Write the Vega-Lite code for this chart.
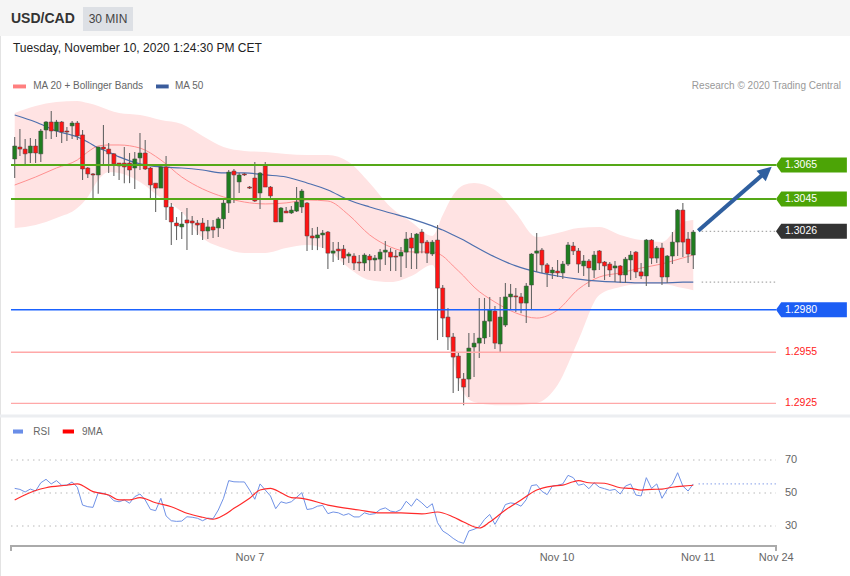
{
"$schema": "https://vega.github.io/schema/vega-lite/v6.json",
"width": 850, "height": 576, "autosize": {"type": "none"}, "padding": 0, "background": "white",
"config": {"view": {"stroke": "#e3e3e3", "strokeWidth": 1}, "text": {"font": "Liberation Sans"}},
"datasets": {
"candles": [
{"i":0,"o":1.30685,"h":1.30814,"l":1.30573,"c":1.30761},{"i":1,"o":1.30755,"h":1.30861,"l":1.30703,"c":1.30743},{"i":2,"o":1.30743,"h":1.30802,"l":1.30644,"c":1.30715},{"i":3,"o":1.3072,"h":1.30808,"l":1.30661,"c":1.30761},{"i":4,"o":1.30761,"h":1.30802,"l":1.30661,"c":1.3072},{"i":5,"o":1.30715,"h":1.30861,"l":1.30667,"c":1.30849},{"i":6,"o":1.30855,"h":1.30908,"l":1.30802,"c":1.30902},{"i":7,"o":1.30902,"h":1.30966,"l":1.30802,"c":1.30849},{"i":8,"o":1.30849,"h":1.30914,"l":1.30814,"c":1.30902},{"i":9,"o":1.30902,"h":1.30908,"l":1.30778,"c":1.30843},
{"i":10,"o":1.30849,"h":1.30873,"l":1.3079,"c":1.30843},{"i":11,"o":1.30879,"h":1.30908,"l":1.30802,"c":1.30896},{"i":12,"o":1.30896,"h":1.30908,"l":1.30796,"c":1.3082},{"i":13,"o":1.30826,"h":1.30855,"l":1.30561,"c":1.30626},{"i":14,"o":1.30632,"h":1.30638,"l":1.30573,"c":1.30597},{"i":15,"o":1.30597,"h":1.30602,"l":1.30444,"c":1.30591},{"i":16,"o":1.30591,"h":1.30757,"l":1.3048,"c":1.30755},{"i":17,"o":1.30755,"h":1.30885,"l":1.30644,"c":1.30743},{"i":18,"o":1.30743,"h":1.30778,"l":1.30602,"c":1.30715},{"i":19,"o":1.30715,"h":1.3072,"l":1.30585,"c":1.30656},
{"i":20,"o":1.30661,"h":1.30661,"l":1.30561,"c":1.30644},{"i":21,"o":1.30661,"h":1.30755,"l":1.30543,"c":1.30638},{"i":22,"o":1.30661,"h":1.3072,"l":1.30543,"c":1.3062},{"i":23,"o":1.30632,"h":1.30726,"l":1.30508,"c":1.30685},{"i":24,"o":1.30691,"h":1.30837,"l":1.3062,"c":1.3072},{"i":25,"o":1.3072,"h":1.30796,"l":1.3062,"c":1.30626},{"i":26,"o":1.30632,"h":1.30638,"l":1.3045,"c":1.30532},{"i":27,"o":1.30543,"h":1.30543,"l":1.30373,"c":1.30514},{"i":28,"o":1.30514,"h":1.3065,"l":1.30514,"c":1.30638},{"i":29,"o":1.30638,"h":1.30703,"l":1.30327,"c":1.30403},
{"i":30,"o":1.30403,"h":1.30426,"l":1.3018,"c":1.30315},{"i":31,"o":1.30309,"h":1.30344,"l":1.30209,"c":1.30292},{"i":32,"o":1.30286,"h":1.30373,"l":1.30215,"c":1.30303},{"i":33,"o":1.30327,"h":1.30397,"l":1.3015,"c":1.30309},{"i":34,"o":1.30321,"h":1.3035,"l":1.30239,"c":1.30309},{"i":35,"o":1.30309,"h":1.30327,"l":1.30239,"c":1.30297},{"i":36,"o":1.30309,"h":1.30338,"l":1.30209,"c":1.30262},{"i":37,"o":1.30262,"h":1.30327,"l":1.30215,"c":1.30286},{"i":38,"o":1.30286,"h":1.30327,"l":1.30221,"c":1.30268},{"i":39,"o":1.3028,"h":1.30344,"l":1.30227,"c":1.30333},
{"i":40,"o":1.30333,"h":1.3045,"l":1.30274,"c":1.30426},{"i":41,"o":1.30426,"h":1.3062,"l":1.30368,"c":1.30608},{"i":42,"o":1.30614,"h":1.30626,"l":1.30426,"c":1.30591},{"i":43,"o":1.3055,"h":1.30602,"l":1.30485,"c":1.30591},{"i":44,"o":1.30597,"h":1.30602,"l":1.30585,"c":1.30591},{"i":45,"o":1.3052,"h":1.30526,"l":1.30508,"c":1.30514},{"i":46,"o":1.30573,"h":1.30667,"l":1.30432,"c":1.30438},{"i":47,"o":1.30485,"h":1.30608,"l":1.30391,"c":1.30602},{"i":48,"o":1.30644,"h":1.30667,"l":1.3052,"c":1.3052},{"i":49,"o":1.3052,"h":1.30526,"l":1.30456,"c":1.30468},
{"i":50,"o":1.3045,"h":1.30456,"l":1.30315,"c":1.30315},{"i":51,"o":1.30315,"h":1.30403,"l":1.30315,"c":1.30397},{"i":52,"o":1.30379,"h":1.30403,"l":1.30368,"c":1.30368},{"i":53,"o":1.30368,"h":1.30409,"l":1.30362,"c":1.30385},{"i":54,"o":1.30379,"h":1.3052,"l":1.30373,"c":1.30432},{"i":55,"o":1.30403,"h":1.30508,"l":1.30368,"c":1.30497},{"i":56,"o":1.30426,"h":1.30432,"l":1.30145,"c":1.30233},{"i":57,"o":1.30233,"h":1.3028,"l":1.3015,"c":1.30221},{"i":58,"o":1.30221,"h":1.30286,"l":1.3015,"c":1.30239},{"i":59,"o":1.30239,"h":1.30268,"l":1.30162,"c":1.3025},
{"i":60,"o":1.30256,"h":1.30262,"l":1.30039,"c":1.30132},{"i":61,"o":1.30132,"h":1.30197,"l":1.3008,"c":1.30145},{"i":62,"o":1.30156,"h":1.30197,"l":1.30092,"c":1.30145},{"i":63,"o":1.30156,"h":1.3018,"l":1.30063,"c":1.30103},{"i":64,"o":1.30115,"h":1.30138,"l":1.30074,"c":1.30127},{"i":65,"o":1.30115,"h":1.30132,"l":1.30033,"c":1.30074},{"i":66,"o":1.3008,"h":1.30121,"l":1.30027,"c":1.30074},{"i":67,"o":1.30074,"h":1.30132,"l":1.30027,"c":1.30121},{"i":68,"o":1.30115,"h":1.30127,"l":1.30027,"c":1.30092},{"i":69,"o":1.30092,"h":1.30121,"l":1.30027,"c":1.30103},
{"i":70,"o":1.30097,"h":1.30156,"l":1.30027,"c":1.30138},{"i":71,"o":1.30138,"h":1.30203,"l":1.30063,"c":1.3015},{"i":72,"o":1.30138,"h":1.30162,"l":1.30027,"c":1.30109},{"i":73,"o":1.30115,"h":1.3015,"l":1.30027,"c":1.30109},{"i":74,"o":1.30115,"h":1.30168,"l":1.29992,"c":1.30138},{"i":75,"o":1.30138,"h":1.30256,"l":1.30045,"c":1.30215},{"i":76,"o":1.30221,"h":1.3025,"l":1.30039,"c":1.30162},{"i":77,"o":1.30132,"h":1.3025,"l":1.30039,"c":1.30244},{"i":78,"o":1.30256,"h":1.30274,"l":1.30132,"c":1.30192},{"i":79,"o":1.30197,"h":1.30209,"l":1.30074,"c":1.30132},
{"i":80,"o":1.30127,"h":1.30209,"l":1.30115,"c":1.30197},{"i":81,"o":1.30209,"h":1.30297,"l":1.29622,"c":1.29927},{"i":82,"o":1.29927,"h":1.29945,"l":1.2964,"c":1.29751},{"i":83,"o":1.29757,"h":1.2981,"l":1.29563,"c":1.2964},{"i":84,"o":1.2964,"h":1.29663,"l":1.29311,"c":1.29522},{"i":85,"o":1.29528,"h":1.29552,"l":1.29323,"c":1.29399},{"i":86,"o":1.29393,"h":1.29428,"l":1.2924,"c":1.29346},{"i":87,"o":1.29393,"h":1.29663,"l":1.29288,"c":1.29575},{"i":88,"o":1.29581,"h":1.29663,"l":1.29405,"c":1.29604},{"i":89,"o":1.29604,"h":1.29869,"l":1.29516,"c":1.29634},
{"i":90,"o":1.29634,"h":1.29869,"l":1.29599,"c":1.29733},{"i":91,"o":1.29733,"h":1.29875,"l":1.2964,"c":1.29798},{"i":92,"o":1.29792,"h":1.29822,"l":1.29569,"c":1.29604},{"i":93,"o":1.29599,"h":1.29875,"l":1.29546,"c":1.29757},{"i":94,"o":1.2971,"h":1.29957,"l":1.29698,"c":1.29875},{"i":95,"o":1.29875,"h":1.29951,"l":1.29798,"c":1.29892},{"i":96,"o":1.29881,"h":1.29927,"l":1.29786,"c":1.29875},{"i":97,"o":1.29875,"h":1.29898,"l":1.2978,"c":1.29839},{"i":98,"o":1.29839,"h":1.29957,"l":1.29722,"c":1.29939},{"i":99,"o":1.29945,"h":1.30132,"l":1.29798,"c":1.30127},
{"i":100,"o":1.30132,"h":1.3025,"l":1.30022,"c":1.30145},{"i":101,"o":1.3015,"h":1.30162,"l":1.30016,"c":1.30063},{"i":102,"o":1.30063,"h":1.30074,"l":1.29933,"c":1.30016},{"i":103,"o":1.30016,"h":1.30051,"l":1.2998,"c":1.30033},{"i":104,"o":1.30027,"h":1.30092,"l":1.29992,"c":1.30016},{"i":105,"o":1.30016,"h":1.30086,"l":1.2998,"c":1.30068},{"i":106,"o":1.30068,"h":1.30197,"l":1.30057,"c":1.3018},{"i":107,"o":1.30174,"h":1.30197,"l":1.30121,"c":1.30145},{"i":108,"o":1.30145,"h":1.30162,"l":1.30016,"c":1.30068},{"i":109,"o":1.30057,"h":1.30121,"l":1.29998,"c":1.30086},
{"i":110,"o":1.30086,"h":1.30097,"l":1.29933,"c":1.30045},{"i":111,"o":1.30033,"h":1.30145,"l":1.29986,"c":1.30121},{"i":112,"o":1.30145,"h":1.3015,"l":1.30033,"c":1.30074},{"i":113,"o":1.3008,"h":1.30086,"l":1.29974,"c":1.30057},{"i":114,"o":1.30068,"h":1.3008,"l":1.29992,"c":1.30033},{"i":115,"o":1.30045,"h":1.30086,"l":1.29963,"c":1.30057},{"i":116,"o":1.30057,"h":1.30063,"l":1.29957,"c":1.30004},{"i":117,"o":1.30004,"h":1.30109,"l":1.29957,"c":1.30097},{"i":118,"o":1.30092,"h":1.30145,"l":1.29974,"c":1.30121},{"i":119,"o":1.30138,"h":1.30145,"l":1.29986,"c":1.30022},
{"i":120,"o":1.30022,"h":1.30074,"l":1.2998,"c":1.29998},{"i":121,"o":1.29998,"h":1.30215,"l":1.29939,"c":1.30209},{"i":122,"o":1.30209,"h":1.30215,"l":1.30068,"c":1.30103},{"i":123,"o":1.30103,"h":1.30174,"l":1.30074,"c":1.30162},{"i":124,"o":1.30162,"h":1.30192,"l":1.29945,"c":1.29992},{"i":125,"o":1.29992,"h":1.30121,"l":1.29957,"c":1.30115},{"i":126,"o":1.30115,"h":1.30256,"l":1.30068,"c":1.30197},{"i":127,"o":1.30197,"h":1.30391,"l":1.30115,"c":1.30385},{"i":128,"o":1.30385,"h":1.30426,"l":1.30109,"c":1.30197},{"i":129,"o":1.30215,"h":1.30256,"l":1.30074,"c":1.30127},
{"i":130,"o":1.30121,"h":1.30268,"l":1.30039,"c":1.30256}
],
"ind": [
{"i":0,"up":1.30955,"lo":1.3028,"m20":1.30532,"m50":1.30943},{"i":4,"up":1.30996,"lo":1.30298,"m20":1.30579,"m50":1.30902},{"i":8,"up":1.31019,"lo":1.30339,"m20":1.30632,"m50":1.30849},{"i":12,"up":1.31025,"lo":1.30397,"m20":1.30679,"m50":1.30814},{"i":14,"up":1.31013,"lo":1.30462,"m20":1.30726,"m50":1.30785},{"i":16,"up":1.30996,"lo":1.30561,"m20":1.30761,"m50":1.30749},{"i":18,"up":1.30972,"lo":1.30608,"m20":1.30767,"m50":1.30726},{"i":20,"up":1.30955,"lo":1.30603,"m20":1.30767,"m50":1.30697},{"i":24,"up":1.30943,"lo":1.3055,"m20":1.30749,"m50":1.30656},{"i":28,"up":1.30914,"lo":1.30456,"m20":1.30679,"m50":1.30638},
{"i":32,"up":1.3089,"lo":1.30374,"m20":1.30579,"m50":1.30632},{"i":36,"up":1.3082,"lo":1.30221,"m20":1.30509,"m50":1.3062},{"i":40,"up":1.30755,"lo":1.30162,"m20":1.30462,"m50":1.30603},{"i":44,"up":1.30732,"lo":1.30133,"m20":1.30432,"m50":1.30603},{"i":48,"up":1.30726,"lo":1.30133,"m20":1.30421,"m50":1.30591},{"i":52,"up":1.30714,"lo":1.30162,"m20":1.30427,"m50":1.30579},{"i":56,"up":1.30708,"lo":1.3018,"m20":1.30444,"m50":1.30544},{"i":60,"up":1.30708,"lo":1.3015,"m20":1.30438,"m50":1.30503},{"i":64,"up":1.30667,"lo":1.30045,"m20":1.30356,"m50":1.30444},{"i":68,"up":1.30544,"lo":1.29974,"m20":1.30239,"m50":1.30403},
{"i":72,"up":1.30403,"lo":1.29962,"m20":1.30168,"m50":1.30368},{"i":76,"up":1.30315,"lo":1.29998,"m20":1.30139,"m50":1.30333},{"i":80,"up":1.30233,"lo":1.30063,"m20":1.30139,"m50":1.30292},{"i":82,"up":1.30356,"lo":1.29857,"m20":1.30115,"m50":1.30268},{"i":84,"up":1.30474,"lo":1.29504,"m20":1.30057,"m50":1.30239},{"i":86,"up":1.30532,"lo":1.29311,"m20":1.29998,"m50":1.30209},{"i":88,"up":1.30544,"lo":1.29258,"m20":1.29933,"m50":1.30174},{"i":92,"up":1.30503,"lo":1.2924,"m20":1.29845,"m50":1.30109},{"i":96,"up":1.30368,"lo":1.2924,"m20":1.29781,"m50":1.30057},{"i":100,"up":1.30227,"lo":1.29252,"m20":1.29751,"m50":1.30022},
{"i":104,"up":1.30251,"lo":1.29358,"m20":1.29798,"m50":1.29998},{"i":108,"up":1.3028,"lo":1.29622,"m20":1.29921,"m50":1.2998},{"i":112,"up":1.30286,"lo":1.29886,"m20":1.29992,"m50":1.29968},{"i":116,"up":1.30239,"lo":1.29933,"m20":1.30016,"m50":1.29962},{"i":120,"up":1.30209,"lo":1.29951,"m20":1.30045,"m50":1.29957},{"i":124,"up":1.30198,"lo":1.29951,"m20":1.30069,"m50":1.29957},{"i":128,"up":1.30315,"lo":1.29927,"m20":1.30104,"m50":1.29962},{"i":130,"up":1.30327,"lo":1.29915,"m20":1.30121,"m50":1.29962}
],
"rsi": [
{"i":0,"r":52.8},{"i":1,"r":52.2},{"i":2,"r":50.6},{"i":3,"r":52.4},{"i":4,"r":51.2},{"i":5,"r":56.2},{"i":6,"r":58.3},{"i":7,"r":55.5},{"i":8,"r":57.5},{"i":9,"r":54.7},{"i":10,"r":54.8},{"i":11,"r":56.7},{"i":12,"r":53.5},{"i":13,"r":42.7},{"i":14,"r":41.7},{"i":15,"r":41.3},{"i":16,"r":50.2},{"i":17,"r":49.8},{"i":18,"r":48.6},{"i":19,"r":45.3},{"i":20,"r":44.7},{"i":21,"r":45.8},{"i":22,"r":43.8},{"i":23,"r":47.8},{"i":24,"r":49.4},{"i":25,"r":45.8},{"i":26,"r":40.1},{"i":27,"r":39.3},{"i":28,"r":46.8},{"i":29,"r":36.1},
{"i":30,"r":33.2},{"i":31,"r":32.8},{"i":32,"r":33.0},{"i":33,"r":35.6},{"i":34,"r":35.3},{"i":35,"r":34.7},{"i":36,"r":33.2},{"i":37,"r":34.8},{"i":38,"r":34.4},{"i":39,"r":39.7},{"i":40,"r":46.8},{"i":41,"r":57.5},{"i":42,"r":56.8},{"i":43,"r":56.7},{"i":44,"r":56.7},{"i":45,"r":51.8},{"i":46,"r":46.2},{"i":47,"r":55.5},{"i":48,"r":51.8},{"i":49,"r":48.2},{"i":50,"r":40.5},{"i":51,"r":44.7},{"i":52,"r":43.8},{"i":53,"r":44.7},{"i":54,"r":47.4},{"i":55,"r":50.2},{"i":56,"r":40.0},{"i":57,"r":40.5},{"i":58,"r":42.0},{"i":59,"r":42.5},
{"i":60,"r":37.5},{"i":61,"r":38.5},{"i":62,"r":38.0},{"i":63,"r":36.5},{"i":64,"r":37.5},{"i":65,"r":35.5},{"i":66,"r":35.5},{"i":67,"r":38.0},{"i":68,"r":37.0},{"i":69,"r":37.5},{"i":70,"r":40.0},{"i":71,"r":41.0},{"i":72,"r":39.0},{"i":73,"r":38.5},{"i":74,"r":40.0},{"i":75,"r":45.0},{"i":76,"r":42.0},{"i":77,"r":46.5},{"i":78,"r":44.0},{"i":79,"r":41.0},{"i":80,"r":43.5},{"i":81,"r":32.0},{"i":82,"r":27.0},{"i":83,"r":25.0},{"i":84,"r":22.5},{"i":85,"r":20.5},{"i":86,"r":19.5},{"i":87,"r":27.0},{"i":88,"r":28.0},{"i":89,"r":29.5},
{"i":90,"r":34.0},{"i":91,"r":37.0},{"i":92,"r":31.0},{"i":93,"r":36.5},{"i":94,"r":43.0},{"i":95,"r":44.0},{"i":96,"r":43.5},{"i":97,"r":42.0},{"i":98,"r":46.0},{"i":99,"r":54.5},{"i":100,"r":55.0},{"i":101,"r":51.0},{"i":102,"r":49.0},{"i":103,"r":54.2},{"i":104,"r":54.7},{"i":105,"r":55.5},{"i":106,"r":60.7},{"i":107,"r":59.3},{"i":108,"r":54.7},{"i":109,"r":55.5},{"i":110,"r":52.6},{"i":111,"r":56.2},{"i":112,"r":53.5},{"i":113,"r":52.6},{"i":114,"r":51.6},{"i":115,"r":52.2},{"i":116,"r":49.4},{"i":117,"r":54.2},{"i":118,"r":55.5},{"i":119,"r":48.8},
{"i":120,"r":48.2},{"i":121,"r":59.3},{"i":122,"r":52.8},{"i":123,"r":55.5},{"i":124,"r":46.8},{"i":125,"r":52.2},{"i":126,"r":55.5},{"i":127,"r":62.3},{"i":128,"r":54.2},{"i":129,"r":51.2},{"i":130,"r":55.5}
],
"ma9": [
{"i":0,"m":45.8},{"i":4,"m":51.5},{"i":6,"m":53.2},{"i":10,"m":54.7},{"i":12,"m":55.5},{"i":15,"m":50.8},{"i":18,"m":48.8},{"i":20,"m":45.8},{"i":22,"m":45.8},{"i":24,"m":47.2},{"i":27,"m":44.1},{"i":30,"m":41.7},{"i":33,"m":37.7},{"i":36,"m":35.3},{"i":38,"m":34.1},{"i":40,"m":36.5},{"i":42,"m":40.7},{"i":45,"m":46.8},{"i":47,"m":51.8},{"i":49,"m":52.8},{"i":51,"m":50.2},{"i":53,"m":47.2},{"i":55,"m":46.8},{"i":60,"m":42.7},{"i":66,"m":39.7},{"i":70,"m":37.9},{"i":74,"m":37.9},{"i":78,"m":37.3},{"i":81,"m":38.5},{"i":84,"m":35.5},{"i":86,"m":32.4},{"i":89,"m":28.8},{"i":91,"m":32.4},{"i":94,"m":39.7},{"i":97,"m":45.8},{"i":100,"m":51.8},{"i":103,"m":54.2},{"i":105,"m":54.8},{"i":107,"m":56.8},{"i":108,"m":57.5},{"i":110,"m":56.2},{"i":113,"m":55.9},{"i":116,"m":53.2},{"i":118,"m":52.8},{"i":120,"m":51.8},{"i":122,"m":52.2},{"i":124,"m":52.4},{"i":126,"m":53.5},{"i":128,"m":54.2},{"i":130,"m":54.7}
],
"levels": [
{"p":1.3065,"t":"1.3065","k":"res"},{"p":1.3045,"t":"1.3045","k":"res"},{"p":1.3026,"t":"1.3026","k":"last"},{"p":1.298,"t":"1.2980","k":"sup"},{"p":1.2955,"t":"1.2955","k":"minor"},{"p":1.2925,"t":"1.2925","k":"minor"}
],
"notes": [
{"g":"title","t":"USD/CAD","i":-0.71,"p":1.31506},
{"g":"tf","t":"30 MIN","i":17.87,"p":1.31506},
{"g":"date","t":"Tuesday, November 10, 2020 1:24:30 PM CET","i":-0.33,"p":1.31336},
{"g":"leg","t":"MA 20 + Bollinger Bands","i":3.56,"p":1.31113},
{"g":"leg","t":"MA 50","i":30.71,"p":1.31113},
{"g":"leg","t":"RSI","i":3.56,"p":1.29085},
{"g":"leg","t":"9MA","i":12.89,"p":1.29085},
{"g":"copy","t":"Research © 2020 Trading Central","i":158.29,"p":1.31113},
{"g":"xl","t":"Nov 7","i":45.07,"p":1.28343},
{"g":"xl","t":"Nov 10","i":103.9,"p":1.28343},
{"g":"xl","t":"Nov 11","i":130.9,"p":1.28343},
{"g":"xl","t":"Nov 24","i":145.9,"p":1.28343}
],
"swatches": [
{"k":"ma20","a":-0.33,"b":2.17,"p1":1.31122,"p2":1.31099},
{"k":"ma50","a":27.07,"b":29.5,"p1":1.31122,"p2":1.31099},
{"k":"rsi","a":-0.33,"b":1.59,"p1":1.29097,"p2":1.29073},
{"k":"ma9","a":9.2,"b":11.36,"p1":1.29097,"p2":1.29073}
]
},
"layer": [
{
"layer": [
{"data": {"values": [{}]}, "mark": {"type": "rect", "color": "#f5f5f5"},
 "encoding": {"x": {"datum": -2.816, "type": "quantitative", "scale": {"domain": [-2.816, 160.02], "nice": false, "zero": false, "padding": 0}, "axis": null}, "x2": {"datum": 160.02},
  "y": {"datum": 1.31618, "type": "quantitative", "scale": {"domain": [1.28237, 1.31618], "nice": false, "zero": false, "padding": 0}, "axis": null}, "y2": {"datum": 1.31407}}},
{"data": {"values": [{}]}, "mark": {"type": "rect", "color": "#dde0e5"},
 "encoding": {"x": {"datum": 13.08, "type": "quantitative", "scale": {"domain": [-2.816, 160.02], "nice": false, "zero": false, "padding": 0}, "axis": null}, "x2": {"datum": 22.66},
  "y": {"datum": 1.31577, "type": "quantitative", "scale": {"domain": [1.28237, 1.31618], "nice": false, "zero": false, "padding": 0}, "axis": null}, "y2": {"datum": 1.31436}}},
{"data": {"values": [{}]}, "mark": {"type": "rule", "color": "#eceef1", "strokeWidth": 3},
 "encoding": {"x": {"datum": -2.816, "type": "quantitative", "scale": {"domain": [-2.816, 160.02], "nice": false, "zero": false, "padding": 0}, "axis": null}, "x2": {"datum": 160.02},
  "y": {"datum": 1.29176, "type": "quantitative", "scale": {"domain": [1.28237, 1.31618], "nice": false, "zero": false, "padding": 0}, "axis": null}}},
{"data": {"name": "ind"}, "mark": {"type": "area", "color": "#ffe3e3", "interpolate": "monotone"},
 "encoding": {"x": {"field": "i", "type": "quantitative", "scale": {"domain": [-2.816, 160.02], "nice": false, "zero": false, "padding": 0}, "axis": null},
  "y": {"field": "lo", "type": "quantitative", "scale": {"domain": [1.28237, 1.31618], "nice": false, "zero": false, "padding": 0}, "axis": null}, "y2": {"field": "up"}}},
{"data": {"name": "ind"}, "mark": {"type": "line", "color": "#ff9090", "strokeWidth": 1, "interpolate": "monotone"},
 "encoding": {"x": {"field": "i", "type": "quantitative", "scale": {"domain": [-2.816, 160.02], "nice": false, "zero": false, "padding": 0}, "axis": null},
  "y": {"field": "m20", "type": "quantitative", "scale": {"domain": [1.28237, 1.31618], "nice": false, "zero": false, "padding": 0}, "axis": null}}},
{"data": {"name": "ind"}, "mark": {"type": "line", "color": "#4d6fae", "strokeWidth": 1.2, "interpolate": "monotone"},
 "encoding": {"x": {"field": "i", "type": "quantitative", "scale": {"domain": [-2.816, 160.02], "nice": false, "zero": false, "padding": 0}, "axis": null},
  "y": {"field": "m50", "type": "quantitative", "scale": {"domain": [1.28237, 1.31618], "nice": false, "zero": false, "padding": 0}, "axis": null}}},
{"data": {"name": "candles"}, "mark": {"type": "rule", "color": "#666666", "strokeWidth": 1.1},
 "encoding": {"x": {"field": "i", "type": "quantitative", "scale": {"domain": [-2.816, 160.02], "nice": false, "zero": false, "padding": 0}, "axis": null},
  "y": {"field": "l", "type": "quantitative", "scale": {"domain": [1.28237, 1.31618], "nice": false, "zero": false, "padding": 0}, "axis": null}, "y2": {"field": "h"}}},
{"data": {"name": "candles"}, "mark": {"type": "bar", "size": 4, "stroke": "#444444", "strokeWidth": 0.5},
 "encoding": {"x": {"field": "i", "type": "quantitative", "scale": {"domain": [-2.816, 160.02], "nice": false, "zero": false, "padding": 0}, "axis": null},
  "y": {"field": "o", "type": "quantitative", "scale": {"domain": [1.28237, 1.31618], "nice": false, "zero": false, "padding": 0}, "axis": null}, "y2": {"field": "c"},
  "color": {"condition": {"test": "datum.c >= datum.o", "value": "#1f7d1f"}, "value": "#ff1414"}}},
{"data": {"name": "levels"}, "transform": [{"filter": "datum.k == 'res'"}], "mark": {"type": "rule", "color": "#55a818", "strokeWidth": 2},
 "encoding": {"x": {"datum": -0.71, "type": "quantitative", "scale": {"domain": [-2.816, 160.02], "nice": false, "zero": false, "padding": 0}, "axis": null}, "x2": {"datum": 145.84},
  "y": {"field": "p", "type": "quantitative", "scale": {"domain": [1.28237, 1.31618], "nice": false, "zero": false, "padding": 0}, "axis": null}}},
{"data": {"name": "levels"}, "transform": [{"filter": "datum.k == 'sup'"}], "mark": {"type": "rule", "color": "#1a62ff", "strokeWidth": 1.4},
 "encoding": {"x": {"datum": -0.71, "type": "quantitative", "scale": {"domain": [-2.816, 160.02], "nice": false, "zero": false, "padding": 0}, "axis": null}, "x2": {"datum": 145.84},
  "y": {"field": "p", "type": "quantitative", "scale": {"domain": [1.28237, 1.31618], "nice": false, "zero": false, "padding": 0}, "axis": null}}},
{"data": {"name": "levels"}, "transform": [{"filter": "datum.k == 'minor'"}], "mark": {"type": "rule", "color": "#ffa8a8", "strokeWidth": 1.4},
 "encoding": {"x": {"datum": -0.71, "type": "quantitative", "scale": {"domain": [-2.816, 160.02], "nice": false, "zero": false, "padding": 0}, "axis": null}, "x2": {"datum": 145.84},
  "y": {"field": "p", "type": "quantitative", "scale": {"domain": [1.28237, 1.31618], "nice": false, "zero": false, "padding": 0}, "axis": null}}},
{"data": {"name": "levels"}, "transform": [{"filter": "datum.k == 'last'"}], "mark": {"type": "rule", "color": "#aaaaaa", "strokeWidth": 1.2, "strokeDash": [1.5, 2.5]},
 "encoding": {"x": {"datum": 131.6, "type": "quantitative", "scale": {"domain": [-2.816, 160.02], "nice": false, "zero": false, "padding": 0}, "axis": null}, "x2": {"datum": 145.84},
  "y": {"field": "p", "type": "quantitative", "scale": {"domain": [1.28237, 1.31618], "nice": false, "zero": false, "padding": 0}, "axis": null}}},
{"data": {"values": [{"p": 1.29962}]}, "mark": {"type": "rule", "color": "#aaaaaa", "strokeWidth": 1.2, "strokeDash": [1.5, 2.5]},
 "encoding": {"x": {"datum": 131.6, "type": "quantitative", "scale": {"domain": [-2.816, 160.02], "nice": false, "zero": false, "padding": 0}, "axis": null}, "x2": {"datum": 145.84},
  "y": {"field": "p", "type": "quantitative", "scale": {"domain": [1.28237, 1.31618], "nice": false, "zero": false, "padding": 0}, "axis": null}}},
{"data": {"values": [{"a": 130.95, "b": 143.3, "pa": 1.30264, "pb": 1.30593}]}, "mark": {"type": "rule", "color": "#2f5f9f", "strokeWidth": 4},
 "encoding": {"x": {"field": "a", "type": "quantitative", "scale": {"domain": [-2.816, 160.02], "nice": false, "zero": false, "padding": 0}, "axis": null}, "x2": {"field": "b"},
  "y": {"field": "pa", "type": "quantitative", "scale": {"domain": [1.28237, 1.31618], "nice": false, "zero": false, "padding": 0}, "axis": null}, "y2": {"field": "pb"}}},
{"data": {"values": [{"i": 145.02, "p": 1.30639}]}, "mark": {"type": "point", "shape": "M0,0L-2,-1L-2,1Z", "size": 196, "angle": 319, "filled": true, "color": "#2f5f9f", "opacity": 1, "strokeWidth": 0},
 "encoding": {"x": {"field": "i", "type": "quantitative", "scale": {"domain": [-2.816, 160.02], "nice": false, "zero": false, "padding": 0}, "axis": null},
  "y": {"field": "p", "type": "quantitative", "scale": {"domain": [1.28237, 1.31618], "nice": false, "zero": false, "padding": 0}, "axis": null}}},
{"data": {"name": "levels"}, "transform": [{"filter": "datum.k != 'minor'"}], "mark": {"type": "point", "shape": "M0,0L0.7,-1L9.45,-1L9.45,1L0.7,1Z", "size": 225, "filled": true, "opacity": 1, "strokeWidth": 0},
 "encoding": {"x": {"datum": 145.84, "type": "quantitative", "scale": {"domain": [-2.816, 160.02], "nice": false, "zero": false, "padding": 0}, "axis": null},
  "y": {"field": "p", "type": "quantitative", "scale": {"domain": [1.28237, 1.31618], "nice": false, "zero": false, "padding": 0}, "axis": null},
  "color": {"field": "k", "type": "nominal", "scale": {"domain": ["res", "sup", "last"], "range": ["#4ca406", "#1c5ef4", "#333333"]}, "legend": null}}},
{"data": {"name": "levels"}, "transform": [{"filter": "datum.k != 'minor'"}], "mark": {"type": "text", "align": "left", "baseline": "middle", "fontSize": 10.5, "color": "#ffffff"},
 "encoding": {"x": {"datum": 147.56, "type": "quantitative", "scale": {"domain": [-2.816, 160.02], "nice": false, "zero": false, "padding": 0}, "axis": null},
  "y": {"field": "p", "type": "quantitative", "scale": {"domain": [1.28237, 1.31618], "nice": false, "zero": false, "padding": 0}, "axis": null}, "text": {"field": "t"}}},
{"data": {"name": "levels"}, "transform": [{"filter": "datum.k == 'minor'"}], "mark": {"type": "text", "align": "left", "baseline": "middle", "fontSize": 10.5, "color": "#ff2222"},
 "encoding": {"x": {"datum": 147.56, "type": "quantitative", "scale": {"domain": [-2.816, 160.02], "nice": false, "zero": false, "padding": 0}, "axis": null},
  "y": {"field": "p", "type": "quantitative", "scale": {"domain": [1.28237, 1.31618], "nice": false, "zero": false, "padding": 0}, "axis": null}, "text": {"field": "t"}}},
{"data": {"name": "swatches"}, "transform": [{"filter": "datum.k == 'ma20'"}], "mark": {"type": "rect", "color": "#ff7f7f"},
 "encoding": {"x": {"field": "a", "type": "quantitative", "scale": {"domain": [-2.816, 160.02], "nice": false, "zero": false, "padding": 0}, "axis": null}, "x2": {"field": "b"},
  "y": {"field": "p1", "type": "quantitative", "scale": {"domain": [1.28237, 1.31618], "nice": false, "zero": false, "padding": 0}, "axis": null}, "y2": {"field": "p2"}}},
{"data": {"name": "swatches"}, "transform": [{"filter": "datum.k == 'ma50'"}], "mark": {"type": "rect", "color": "#3a5c9c"},
 "encoding": {"x": {"field": "a", "type": "quantitative", "scale": {"domain": [-2.816, 160.02], "nice": false, "zero": false, "padding": 0}, "axis": null}, "x2": {"field": "b"},
  "y": {"field": "p1", "type": "quantitative", "scale": {"domain": [1.28237, 1.31618], "nice": false, "zero": false, "padding": 0}, "axis": null}, "y2": {"field": "p2"}}},
{"data": {"name": "swatches"}, "transform": [{"filter": "datum.k == 'rsi'"}], "mark": {"type": "rect", "color": "#6a8ee8"},
 "encoding": {"x": {"field": "a", "type": "quantitative", "scale": {"domain": [-2.816, 160.02], "nice": false, "zero": false, "padding": 0}, "axis": null}, "x2": {"field": "b"},
  "y": {"field": "p1", "type": "quantitative", "scale": {"domain": [1.28237, 1.31618], "nice": false, "zero": false, "padding": 0}, "axis": null}, "y2": {"field": "p2"}}},
{"data": {"name": "swatches"}, "transform": [{"filter": "datum.k == 'ma9'"}], "mark": {"type": "rect", "color": "#ff0000"},
 "encoding": {"x": {"field": "a", "type": "quantitative", "scale": {"domain": [-2.816, 160.02], "nice": false, "zero": false, "padding": 0}, "axis": null}, "x2": {"field": "b"},
  "y": {"field": "p1", "type": "quantitative", "scale": {"domain": [1.28237, 1.31618], "nice": false, "zero": false, "padding": 0}, "axis": null}, "y2": {"field": "p2"}}},
{"data": {"name": "notes"}, "transform": [{"filter": "datum.g == 'title'"}], "mark": {"type": "text", "align": "left", "baseline": "middle", "fontSize": 14, "fontWeight": "bold", "color": "#333333"},
 "encoding": {"x": {"field": "i", "type": "quantitative", "scale": {"domain": [-2.816, 160.02], "nice": false, "zero": false, "padding": 0}, "axis": null},
  "y": {"field": "p", "type": "quantitative", "scale": {"domain": [1.28237, 1.31618], "nice": false, "zero": false, "padding": 0}, "axis": null}, "text": {"field": "t"}}},
{"data": {"name": "notes"}, "transform": [{"filter": "datum.g == 'tf'"}], "mark": {"type": "text", "align": "center", "baseline": "middle", "fontSize": 12, "color": "#444444"},
 "encoding": {"x": {"field": "i", "type": "quantitative", "scale": {"domain": [-2.816, 160.02], "nice": false, "zero": false, "padding": 0}, "axis": null},
  "y": {"field": "p", "type": "quantitative", "scale": {"domain": [1.28237, 1.31618], "nice": false, "zero": false, "padding": 0}, "axis": null}, "text": {"field": "t"}}},
{"data": {"name": "notes"}, "transform": [{"filter": "datum.g == 'date'"}], "mark": {"type": "text", "align": "left", "baseline": "middle", "fontSize": 12, "color": "#222222"},
 "encoding": {"x": {"field": "i", "type": "quantitative", "scale": {"domain": [-2.816, 160.02], "nice": false, "zero": false, "padding": 0}, "axis": null},
  "y": {"field": "p", "type": "quantitative", "scale": {"domain": [1.28237, 1.31618], "nice": false, "zero": false, "padding": 0}, "axis": null}, "text": {"field": "t"}}},
{"data": {"name": "notes"}, "transform": [{"filter": "datum.g == 'leg'"}], "mark": {"type": "text", "align": "left", "baseline": "middle", "fontSize": 10, "color": "#666666"},
 "encoding": {"x": {"field": "i", "type": "quantitative", "scale": {"domain": [-2.816, 160.02], "nice": false, "zero": false, "padding": 0}, "axis": null},
  "y": {"field": "p", "type": "quantitative", "scale": {"domain": [1.28237, 1.31618], "nice": false, "zero": false, "padding": 0}, "axis": null}, "text": {"field": "t"}}},
{"data": {"name": "notes"}, "transform": [{"filter": "datum.g == 'copy'"}], "mark": {"type": "text", "align": "right", "baseline": "middle", "fontSize": 10, "color": "#999999"},
 "encoding": {"x": {"field": "i", "type": "quantitative", "scale": {"domain": [-2.816, 160.02], "nice": false, "zero": false, "padding": 0}, "axis": null},
  "y": {"field": "p", "type": "quantitative", "scale": {"domain": [1.28237, 1.31618], "nice": false, "zero": false, "padding": 0}, "axis": null}, "text": {"field": "t"}}},
{"data": {"name": "notes"}, "transform": [{"filter": "datum.g == 'xl'"}], "mark": {"type": "text", "align": "center", "baseline": "middle", "fontSize": 11, "color": "#666666"},
 "encoding": {"x": {"field": "i", "type": "quantitative", "scale": {"domain": [-2.816, 160.02], "nice": false, "zero": false, "padding": 0}, "axis": null},
  "y": {"field": "p", "type": "quantitative", "scale": {"domain": [1.28237, 1.31618], "nice": false, "zero": false, "padding": 0}, "axis": null}, "text": {"field": "t"}}},
{"data": {"values": [{}]}, "mark": {"type": "rule", "color": "#aaaaaa", "strokeWidth": 2},
 "encoding": {"x": {"datum": -0.71, "type": "quantitative", "scale": {"domain": [-2.816, 160.02], "nice": false, "zero": false, "padding": 0}, "axis": null}, "x2": {"datum": 145.84},
  "y": {"datum": 1.28413, "type": "quantitative", "scale": {"domain": [1.28237, 1.31618], "nice": false, "zero": false, "padding": 0}, "axis": null}}},
{"data": {"values": [{"i": -0.71}, {"i": 145.84}]}, "mark": {"type": "rule", "color": "#aaaaaa", "strokeWidth": 2},
 "encoding": {"x": {"field": "i", "type": "quantitative", "scale": {"domain": [-2.816, 160.02], "nice": false, "zero": false, "padding": 0}, "axis": null},
  "y": {"datum": 1.28419, "type": "quantitative", "scale": {"domain": [1.28237, 1.31618], "nice": false, "zero": false, "padding": 0}, "axis": null}, "y2": {"datum": 1.28384}}}
]
},
{
"layer": [
{"data": {"values": [{"v": 70}, {"v": 50}, {"v": 30}]}, "mark": {"type": "rule", "color": "#b8b8b8", "strokeWidth": 1, "strokeDash": [1.5, 4]},
 "encoding": {"x": {"datum": -0.71, "type": "quantitative", "scale": {"domain": [-2.816, 160.02], "nice": false, "zero": false, "padding": 0}, "axis": null}, "x2": {"datum": 145.84},
  "y": {"field": "v", "type": "quantitative", "scale": {"domain": [-0.3, 348.79], "nice": false, "zero": false, "padding": 0}, "axis": null}}},
{"data": {"values": [{"v": 70}, {"v": 50}, {"v": 30}]}, "mark": {"type": "text", "align": "left", "baseline": "middle", "fontSize": 11, "color": "#666666"},
 "encoding": {"x": {"datum": 147.56, "type": "quantitative", "scale": {"domain": [-2.816, 160.02], "nice": false, "zero": false, "padding": 0}, "axis": null},
  "y": {"field": "v", "type": "quantitative", "scale": {"domain": [-0.3, 348.79], "nice": false, "zero": false, "padding": 0}, "axis": null}, "text": {"field": "v"}}},
{"data": {"values": [{"v": 55.5}]}, "mark": {"type": "rule", "color": "#9fb3ee", "strokeWidth": 1.2, "strokeDash": [1.5, 2.5]},
 "encoding": {"x": {"datum": 131, "type": "quantitative", "scale": {"domain": [-2.816, 160.02], "nice": false, "zero": false, "padding": 0}, "axis": null}, "x2": {"datum": 145.84},
  "y": {"field": "v", "type": "quantitative", "scale": {"domain": [-0.3, 348.79], "nice": false, "zero": false, "padding": 0}, "axis": null}}},
{"data": {"name": "rsi"}, "mark": {"type": "line", "color": "#7092e6", "strokeWidth": 1},
 "encoding": {"x": {"field": "i", "type": "quantitative", "scale": {"domain": [-2.816, 160.02], "nice": false, "zero": false, "padding": 0}, "axis": null},
  "y": {"field": "r", "type": "quantitative", "scale": {"domain": [-0.3, 348.79], "nice": false, "zero": false, "padding": 0}, "axis": null}}},
{"data": {"name": "ma9"}, "mark": {"type": "line", "color": "#ff2a2a", "strokeWidth": 1.2, "interpolate": "monotone"},
 "encoding": {"x": {"field": "i", "type": "quantitative", "scale": {"domain": [-2.816, 160.02], "nice": false, "zero": false, "padding": 0}, "axis": null},
  "y": {"field": "m", "type": "quantitative", "scale": {"domain": [-0.3, 348.79], "nice": false, "zero": false, "padding": 0}, "axis": null}}}
]
}
],
"resolve": {"scale": {"y": "independent"}}
}
